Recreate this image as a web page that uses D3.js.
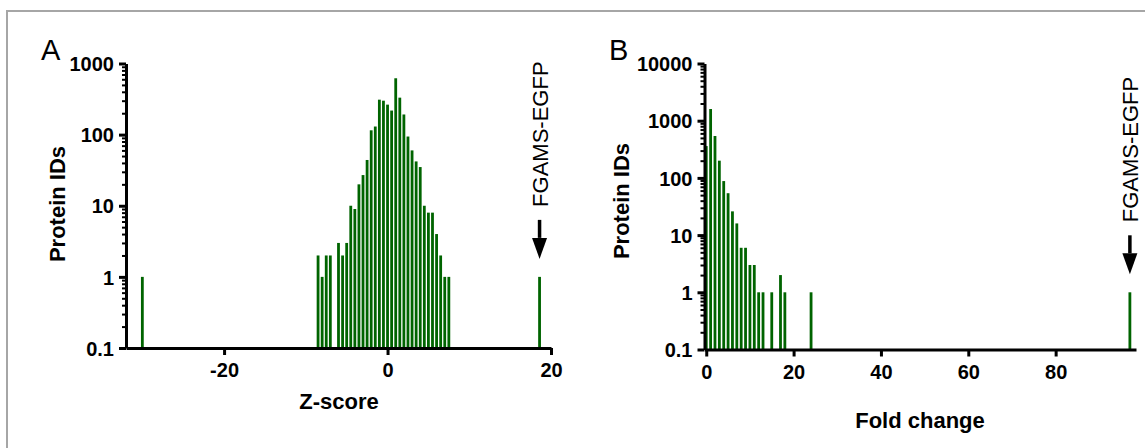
<!DOCTYPE html>
<html>
<head>
<meta charset="utf-8">
<script src="https://cdn.jsdelivr.net/npm/d3@7"></script>
<style>
  body { margin: 0; background: #fff; }
  svg { display: block; font-family: "Liberation Sans", Arial, sans-serif; }
</style>
</head>
<body>
<svg id="chart" width="1145" height="448"></svg>
<script>
// panel A: z-score histogram (bins of 0.5)
const zScore = [-30, -8.5, -8, -7.5, -7, -6, -5.5, -5, -4.5, -4, -3.5, -3, -2.5, -2, -1.5, -1, -0.5,
  0, 0.5, 1, 1.5, 2, 2.5, 3, 3.5, 4, 4.5, 5, 5.5, 6, 6.5, 7, 7.5, 18.6];
const zCount = [1, 2, 1, 2, 2, 3, 2, 3, 10, 9, 20, 27, 44, 115, 130, 310, 300,
  264, 218, 620, 331, 192, 94, 60, 42, 35, 10, 8, 8, 4, 2, 1, 1, 1];
const zTicks = [-20, 0, 20];

// panel B: fold change histogram
const foldChange = [0, 1, 2, 3, 4, 5, 6, 7, 8, 9, 10, 11, 12, 13, 15, 17, 18, 24, 97];
const foldCount = [360, 1600, 540, 200, 88, 54, 26, 16, 6, 6, 3, 3, 1, 1, 1, 2, 1, 1, 1];
const foldTicks = [0, 20, 40, 60, 80];

const yTicksA = [0.1, 1, 10, 100, 1000];
const yTicksB = [0.1, 1, 10, 100, 1000, 10000];

const BAR = "#006400";
const svg = d3.select("#chart");

// outer gray frame
svg.append("rect")
  .attr("x", 7).attr("y", 11)
  .attr("width", 1300).attr("height", 600)
  .attr("fill", "none").attr("stroke", "#a6a6a6").attr("stroke-width", 2);

function minorTicks(domain) {
  const out = [];
  for (let e = Math.log10(domain[0]); e < Math.log10(domain[1]); e++) {
    for (let k = 2; k <= 9; k++) out.push(k * Math.pow(10, e));
  }
  return out;
}

function drawPanel(p) {
  const x = d3.scaleLinear().domain(p.xDomain).range(p.xRange);
  const y = d3.scaleLog().domain(p.yDomain).range(p.yRange);
  const g = svg.append("g");

  // bars
  g.selectAll("rect.bar").data(p.xs)
    .enter().append("rect")
    .attr("class", "bar")
    .attr("x", d => x(d) - 1.4)
    .attr("width", 2.8)
    .attr("y", (d, i) => y(p.counts[i]))
    .attr("height", (d, i) => y(p.yDomain[0]) - y(p.counts[i]))
    .attr("fill", BAR);

  // minor y ticks
  g.append("g")
    .attr("transform", `translate(${p.xRange[0]},0)`)
    .call(d3.axisLeft(y).tickValues(minorTicks(p.yDomain)).tickSize(4).tickFormat(""))
    .call(a => a.select(".domain").remove())
    .call(a => a.selectAll("line").attr("stroke-width", 2));

  // y axis
  g.append("g")
    .attr("transform", `translate(${p.xRange[0]},0)`)
    .call(d3.axisLeft(y).tickValues(p.yTicks).tickSize(7).tickSizeOuter(0).tickPadding(5)
      .tickFormat(d => d < 1 ? "0.1" : d3.format("d")(d)))
    .call(a => a.select(".domain").attr("stroke-width", 3))
    .call(a => a.selectAll("line").attr("stroke-width", 3))
    .call(a => a.selectAll("text").attr("font-size", 20).attr("font-weight", "bold")
      .attr("font-family", "Liberation Sans, Arial, sans-serif").attr("dy", "0.36em"));

  // x axis (plain hyphen for negatives, as in the figure)
  g.append("g")
    .attr("transform", `translate(0,${p.yRange[0]})`)
    .call(d3.axisBottom(x).tickValues(p.xTicks).tickSize(7).tickSizeOuter(0).tickPadding(8)
      .tickFormat(d => String(d)))
    .call(a => a.select(".domain").attr("stroke-width", 3))
    .call(a => a.selectAll("line").attr("stroke-width", 3))
    .call(a => a.selectAll("text").attr("font-size", 20).attr("font-weight", "bold")
      .attr("font-family", "Liberation Sans, Arial, sans-serif"));

  // axis titles
  g.append("text")
    .attr("x", p.xTitle[0]).attr("y", p.xTitle[1])
    .attr("text-anchor", "middle")
    .attr("font-size", 22).attr("font-weight", "bold")
    .text(p.xLabel);
  g.append("text")
    .attr("transform", `translate(${p.yTitle[0]},${p.yTitle[1]}) rotate(-90)`)
    .attr("text-anchor", "middle")
    .attr("font-size", 22).attr("font-weight", "bold")
    .text("Protein IDs");

  // panel letter
  g.append("text")
    .attr("x", p.letterPos[0]).attr("y", p.letterPos[1])
    .attr("font-size", 29)
    .text(p.letter);

  // FGAMS-EGFP arrow + label above the outlier bar
  const ax = x(p.xs[p.xs.length - 1]);
  const tip = y(p.counts[p.counts.length - 1]) - 18;
  g.append("path")
    .attr("d", `M${ax - 7.5},${tip - 21} L${ax + 7.5},${tip - 21} L${ax},${tip} Z`)
    .attr("fill", "#000");
  g.append("line")
    .attr("x1", ax).attr("x2", ax)
    .attr("y1", tip - 21).attr("y2", tip - 39)
    .attr("stroke", "#000").attr("stroke-width", 3.5);
  g.append("text")
    .attr("transform", `translate(${ax + 8},${tip - 52}) rotate(-90)`)
    .attr("font-size", 22)
    .text("FGAMS-EGFP");
}

drawPanel({
  xs: zScore, counts: zCount, xTicks: zTicks,
  xDomain: [-32, 20], xRange: [126, 551],
  yDomain: [0.1, 1000], yRange: [348, 63.5], yTicks: yTicksA,
  xLabel: "Z-score", xTitle: [339, 409], yTitle: [65, 204],
  letter: "A", letterPos: [41, 60]
});

drawPanel({
  xs: foldChange, counts: foldCount, xTicks: foldTicks,
  xDomain: [-0.4, 98.4], xRange: [704.5, 1136],
  yDomain: [0.1, 10000], yRange: [349.5, 63.5], yTicks: yTicksB,
  xLabel: "Fold change", xTitle: [920, 428], yTitle: [629, 201],
  letter: "B", letterPos: [609, 60]
});
</script>
</body>
</html>
